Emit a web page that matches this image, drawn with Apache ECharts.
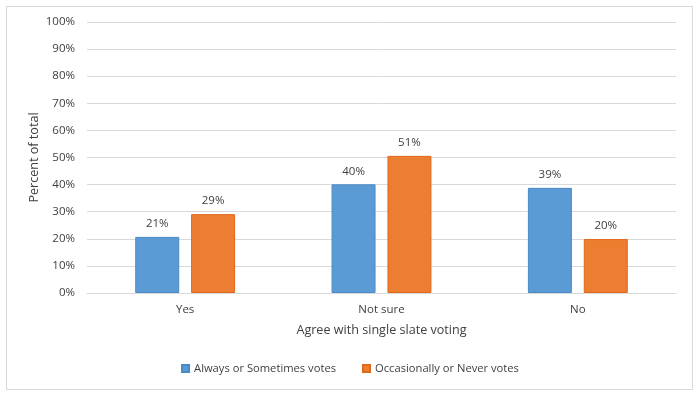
<!DOCTYPE html>
<html><head><meta charset="utf-8">
<script src="https://cdn.jsdelivr.net/npm/echarts@6/dist/echarts.min.js"></script>
<style>html,body{margin:0;padding:0;background:#fff}#c{width:700px;height:395px}
#frame{position:absolute;left:6px;top:6px;width:685px;height:382px;border:1px solid #d9d9d9;pointer-events:none}</style>
</head><body><div id="c"></div><div id="frame"></div>
<script>
const categories = ['Yes', 'Not sure', 'No'];
const seriesNames = ['Always or Sometimes votes', 'Occasionally or Never votes'];
const alwaysValues = [20.7, 40.1, 38.8];
const occasionalValues = [29.1, 50.6, 19.9];
const yTicks = [0, 10, 20, 30, 40, 50, 60, 70, 80, 90, 100];

const font = '"Open Sans", "Liberation Sans", sans-serif';
const chart = echarts.init(document.getElementById('c'));
const lbl = {show: true, position: 'top', distance: 7, color: '#404040', fontSize: 11.5, fontFamily: font,
  formatter: p => Math.round(p.value) + '%'};
chart.setOption({
  animation: false,
  textStyle: {fontFamily: font},
  grid: {left: 87, right: 24, top: 22, bottom: 102, containLabel: false},
  legend: {bottom: 16, left: 'center', itemWidth: 7, itemHeight: 7, itemGap: 26,
    icon: 'rect', textStyle: {color: '#404040', fontSize: 11.2, fontFamily: font},
    data: seriesNames},
  xAxis: {type: 'category', data: categories,
    name: 'Agree with single slate voting', nameLocation: 'middle', nameGap: 31, nameMoveOverlap: false,
    nameTextStyle: {color: '#404040', fontSize: 12.6, fontFamily: font},
    axisLine: {show: true, lineStyle: {color: '#d9d9d9'}}, axisTick: {show: false},
    axisLabel: {color: '#404040', fontSize: 11.5, margin: 11, fontFamily: font}},
  yAxis: {type: 'value', min: yTicks[0], max: yTicks[yTicks.length - 1], interval: 10,
    name: 'Percent of total', nameLocation: 'middle', nameGap: 46, nameRotate: 90, nameMoveOverlap: false,
    nameTextStyle: {color: '#404040', fontSize: 12.6, fontFamily: font},
    axisLine: {show: false}, axisTick: {show: false},
    axisLabel: {color: '#404040', fontSize: 11.5, margin: 12, fontFamily: font, formatter: '{value}%'},
    splitLine: {lineStyle: {color: '#d9d9d9', width: 1}}},
  series: [
    {name: seriesNames[0], type: 'bar', data: alwaysValues, barWidth: 44, barGap: '27%',
     itemStyle: {color: '#5B9BD5', borderColor: '#4a8ac6', borderWidth: 1}, label: lbl},
    {name: seriesNames[1], type: 'bar', data: occasionalValues, barWidth: 44,
     itemStyle: {color: '#ED7D31', borderColor: '#e0691c', borderWidth: 1}, label: lbl}
  ]
});
</script></body></html>
